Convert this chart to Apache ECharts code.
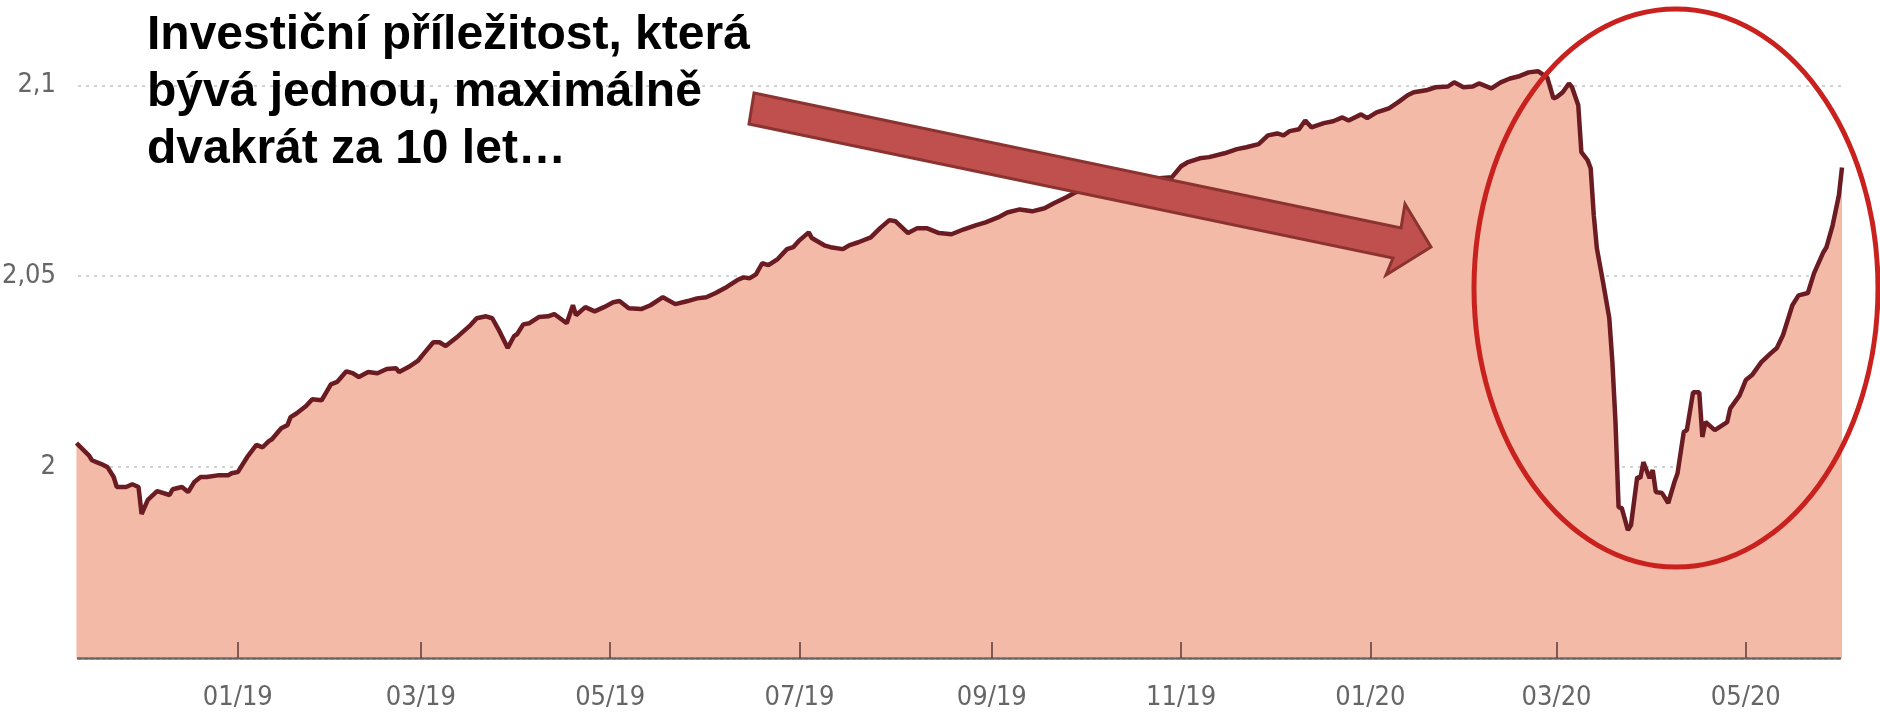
<!DOCTYPE html>
<html>
<head>
<meta charset="utf-8">
<script src="https://cdn.jsdelivr.net/npm/echarts@6/dist/echarts.min.js"></script>
<style>
  html, body { margin: 0; padding: 0; background: #fff; }
  #chart { width: 1880px; height: 719px; }
</style>
</head>
<body>
<div id="chart"></div>
<script>
// dates of the readings (fund value)
const dates = [
  '2018-11-10', '2018-11-14', '2018-11-15', '2018-11-18', '2018-11-20', '2018-11-22', '2018-11-23', '2018-11-26',
  '2018-11-28', '2018-11-30', '2018-12-01', '2018-12-03', '2018-12-06', '2018-12-10', '2018-12-11', '2018-12-14',
  '2018-12-16', '2018-12-18', '2018-12-20', '2018-12-22', '2018-12-26', '2018-12-29', '2018-12-30', '2019-01-01',
  '2019-01-04', '2019-01-07', '2019-01-09', '2019-01-11', '2019-01-12', '2019-01-15', '2019-01-17', '2019-01-18',
  '2019-01-20', '2019-01-23', '2019-01-25', '2019-01-28', '2019-01-31', '2019-02-02', '2019-02-05', '2019-02-07',
  '2019-02-09', '2019-02-12', '2019-02-15', '2019-02-18', '2019-02-21', '2019-02-22', '2019-02-25', '2019-02-28',
  '2019-03-02', '2019-03-05', '2019-03-07', '2019-03-09', '2019-03-13', '2019-03-17', '2019-03-19', '2019-03-22',
  '2019-03-24', '2019-03-26', '2019-03-29', '2019-03-31', '2019-04-01', '2019-04-03', '2019-04-05', '2019-04-08',
  '2019-04-11', '2019-04-13', '2019-04-17', '2019-04-19', '2019-04-20', '2019-04-23', '2019-04-26', '2019-04-29',
  '2019-05-02', '2019-05-04', '2019-05-07', '2019-05-11', '2019-05-14', '2019-05-18', '2019-05-22', '2019-05-26',
  '2019-05-29', '2019-06-01', '2019-06-04', '2019-06-07', '2019-06-11', '2019-06-13', '2019-06-15', '2019-06-17',
  '2019-06-19', '2019-06-21', '2019-06-24', '2019-06-27', '2019-06-29', '2019-07-01', '2019-07-04', '2019-07-05',
  '2019-07-09', '2019-07-11', '2019-07-15', '2019-07-17', '2019-07-20', '2019-07-24', '2019-07-27', '2019-07-30',
  '2019-08-01', '2019-08-05', '2019-08-08', '2019-08-11', '2019-08-15', '2019-08-19', '2019-08-23', '2019-08-27',
  '2019-08-30', '2019-09-03', '2019-09-06', '2019-09-10', '2019-09-14', '2019-09-18', '2019-09-21', '2019-09-25',
  '2019-09-28', '2019-10-06', '2019-10-16', '2019-10-25', '2019-10-29', '2019-11-01', '2019-11-03', '2019-11-07',
  '2019-11-10', '2019-11-15', '2019-11-19', '2019-11-22', '2019-11-26', '2019-11-29', '2019-12-02', '2019-12-04',
  '2019-12-06', '2019-12-09', '2019-12-11', '2019-12-13', '2019-12-17', '2019-12-20', '2019-12-23', '2019-12-25',
  '2019-12-29', '2019-12-31', '2020-01-03', '2020-01-07', '2020-01-10', '2020-01-13', '2020-01-15', '2020-01-19',
  '2020-01-22', '2020-01-26', '2020-01-28', '2020-01-31', '2020-02-03', '2020-02-05', '2020-02-09', '2020-02-12',
  '2020-02-15', '2020-02-18', '2020-02-21', '2020-02-24', '2020-02-27', '2020-02-29', '2020-03-01', '2020-03-03',
  '2020-03-05', '2020-03-06', '2020-03-08', '2020-03-09', '2020-03-11', '2020-03-12', '2020-03-13', '2020-03-14',
  '2020-03-16', '2020-03-18', '2020-03-19', '2020-03-20', '2020-03-21', '2020-03-22', '2020-03-24', '2020-03-25',
  '2020-03-27', '2020-03-28', '2020-03-29', '2020-03-31', '2020-04-01', '2020-04-02', '2020-04-04', '2020-04-06',
  '2020-04-08', '2020-04-09', '2020-04-11', '2020-04-12', '2020-04-14', '2020-04-16', '2020-04-17', '2020-04-18',
  '2020-04-21', '2020-04-25', '2020-04-26', '2020-04-29', '2020-05-01', '2020-05-03', '2020-05-06', '2020-05-09',
  '2020-05-11', '2020-05-13', '2020-05-16', '2020-05-18', '2020-05-21', '2020-05-23', '2020-05-26', '2020-05-27',
  '2020-05-29', '2020-05-31', '2020-06-01'
]

const values = [
  2.0063, 2.0031, 2.0018, 2.0008, 2.0000, 1.9974, 1.9948, 1.9948,
  1.9955, 1.9948, 1.9877, 1.9914, 1.9937, 1.9927, 1.9942, 1.9948,
  1.9935, 1.9961, 1.9974, 1.9974, 1.9979, 1.9979, 1.9984, 1.9987,
  2.0026, 2.0058, 2.0052, 2.0068, 2.0073, 2.0102, 2.0110, 2.0131,
  2.0141, 2.0160, 2.0178, 2.0175, 2.0217, 2.0223, 2.0251, 2.0246,
  2.0236, 2.0249, 2.0246, 2.0257, 2.0259, 2.0249, 2.0262, 2.0278,
  2.0298, 2.0327, 2.0327, 2.0317, 2.0343, 2.0372, 2.0390, 2.0395,
  2.0390, 2.0361, 2.0312, 2.0343, 2.0348, 2.0374, 2.0377, 2.0393,
  2.0395, 2.0401, 2.0377, 2.0424, 2.0398, 2.0419, 2.0408, 2.0419,
  2.0432, 2.0435, 2.0416, 2.0414, 2.0424, 2.0445, 2.0427, 2.0435,
  2.0442, 2.0445, 2.0456, 2.0469, 2.0490, 2.0497, 2.0495, 2.0505,
  2.0534, 2.0529, 2.0545, 2.0571, 2.0576, 2.0594, 2.0615, 2.0600,
  2.0581, 2.0576, 2.0571, 2.0581, 2.0589, 2.0602, 2.0626, 2.0647,
  2.0644, 2.0613, 2.0626, 2.0626, 2.0613, 2.0610, 2.0623, 2.0634,
  2.0641, 2.0654, 2.0667, 2.0675, 2.0670, 2.0678, 2.0691, 2.0707,
  2.0720, 2.0736, 2.0749, 2.0757, 2.0759, 2.0788, 2.0798, 2.0809,
  2.0812, 2.0822, 2.0833, 2.0838, 2.0846, 2.0869, 2.0874, 2.0869,
  2.0880, 2.0885, 2.0908, 2.0890, 2.0901, 2.0906, 2.0916, 2.0908,
  2.0924, 2.0914, 2.0929, 2.0940, 2.0956, 2.0974, 2.0982, 2.0987,
  2.0995, 2.0997, 2.1008, 2.0995, 2.0997, 2.1005, 2.0992, 2.1008,
  2.1018, 2.1024, 2.1034, 2.1037, 2.1021, 2.0966, 2.0969, 2.0982,
  2.1005, 2.0995, 2.0948, 2.0825, 2.0804, 2.0783, 2.0660, 2.0573,
  2.0484, 2.0390, 2.0275, 2.0118, 1.9895, 1.9893, 1.9835, 1.9848,
  1.9974, 1.9971, 2.0013, 1.9971, 1.9992, 1.9935, 1.9932, 1.9906,
  1.9961, 1.9984, 2.0092, 2.0097, 2.0196, 2.0196, 2.0079, 2.0118,
  2.0097, 2.0118, 2.0154, 2.0188, 2.0228, 2.0241, 2.0275, 2.0298,
  2.0312, 2.0346, 2.0424, 2.0450, 2.0456, 2.0508, 2.0563, 2.0576,
  2.0634, 2.0712, 2.0785
]

const yLabels = { '2': '2', '2.05': '2,05', '2.1': '2,1' }
const headline = ['Investiční příležitost, která', 'bývá jednou, maximálně', 'dvakrát za 10 let…']

const labelFont = "'Liberation Sans Narrow', 'DejaVu Sans Condensed', sans-serif"

const chart = echarts.init(document.getElementById('chart'))

function monthLabel(value) {
  const d = new Date(value)
  if (d.getDate() !== 1 || d.getHours() !== 0) return ''
  const m = d.getMonth() + 1
  if (m % 2 === 0) return ''
  return String(m).padStart(2, '0') + '/' + String(d.getFullYear() % 100).padStart(2, '0')
}

chart.setOption({
  backgroundColor: '#fff',
  animation: false,
  grid: { left: 78, right: 38, top: 9, bottom: 61, outerBoundsMode: 'none' },
  xAxis: {
    type: 'time',
    min: '2018-11-10 12:00',
    max: '2020-06-01',
    splitNumber: 9,
    z: 3,
    axisLine: { lineStyle: { color: '#666', width: 2.5, type: [4, 2] } },
    axisTick: { show: true, inside: true, length: 16, lineStyle: { color: '#5b3b3b', width: 1.5 } },
    axisLabel: { formatter: monthLabel, color: '#666', fontSize: 27, fontFamily: labelFont, margin: 26, hideOverlap: false },
    splitLine: { show: false },
  },
  yAxis: {
    type: 'value',
    min: 1.95,
    max: 2.12,
    interval: 0.05,
    z: 3,
    axisLine: { show: false },
    axisTick: { show: false },
    axisLabel: {
      color: '#666', fontSize: 27, fontFamily: labelFont, margin: 22,
      formatter: (v) => yLabels[String(+v.toFixed(2))] || '',
    },
    splitLine: { showMinLine: false, showMaxLine: false, lineStyle: { color: '#d2d2d2', width: 2, type: [3, 5] } },
  },
  series: [{
    type: 'line',
    data: dates.map((d, i) => [d, values[i]]),
    showSymbol: false,
    lineStyle: { color: '#6b1c22', width: 4.5 },
    areaStyle: { color: '#f4baa8', opacity: 1 },
  }],
  graphic: [
    {
      type: 'text', left: 147, top: 7, z: 20,
      style: {
        text: headline.join('\n'), fill: '#000', lineHeight: 57,
        font: "bold 48px 'Liberation Sans', Arial, sans-serif",
      },
    },
    {
      type: 'polygon', z: 20,
      shape: { points: [[754, 93], [1401, 228], [1405, 204], [1431, 247], [1386, 275], [1393, 258], [749, 124]] },
      style: { fill: '#c0504d', stroke: '#8b3330', lineWidth: 3 },
    },
    {
      type: 'ellipse', z: 20,
      shape: { cx: 1676, cy: 288, rx: 202, ry: 279 },
      style: { fill: null, stroke: '#c8211e', lineWidth: 5 },
    },
  ],
})
</script>
</body>
</html>
